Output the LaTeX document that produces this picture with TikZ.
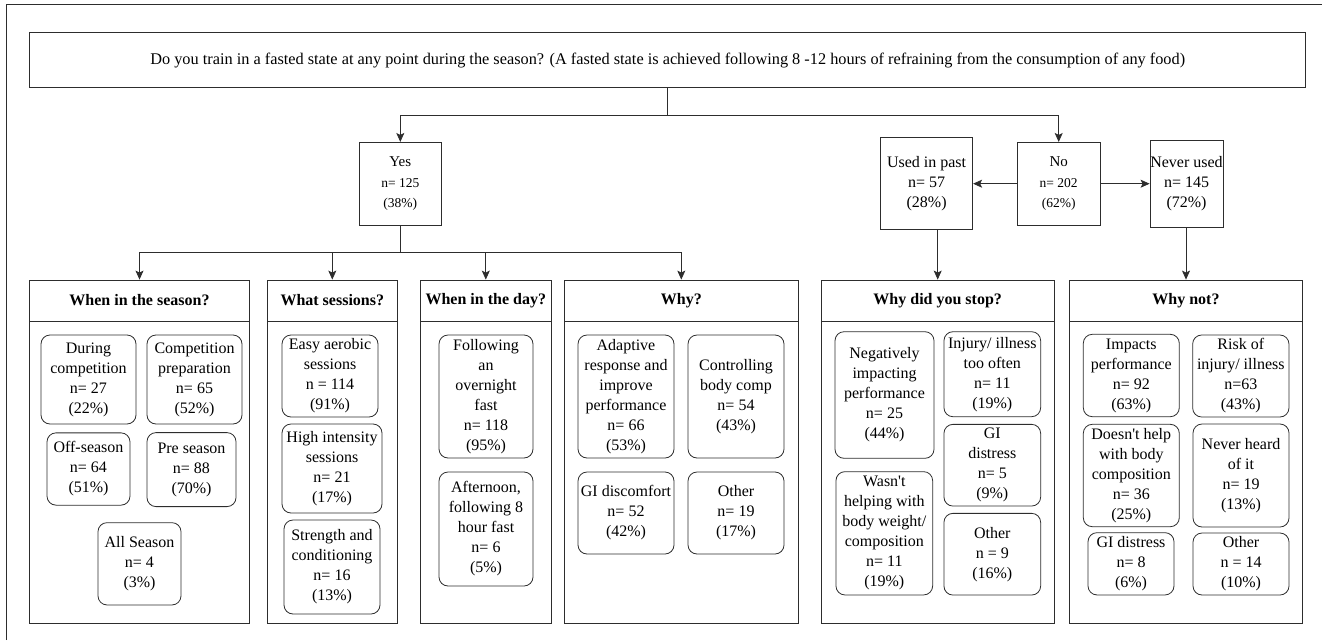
\documentclass[tikz,border=0pt]{standalone}
\usepackage{fontspec}
\setmainfont{Liberation Serif}[Ligatures=TeXOff]
\usepackage{tikz}
\usetikzlibrary{arrows.meta}
\definecolor{lineblk}{RGB}{45,45,45}

\begin{document}
\begin{tikzpicture}[x=1pt,y=-1pt,
  box/.style={draw=lineblk,line width=0.8pt,rectangle,inner sep=0pt,align=center},
  item/.style={box,rounded corners=9pt,font=\fontsize{16}{20}\selectfont},
  head/.style={box,font=\fontsize{16}{20}\selectfont\bfseries},
  ans/.style={box,font=\fontsize{16}{20}\selectfont},
  link/.style={draw=lineblk,line width=0.8pt},
  arr/.style={link,-{Stealth[length=9pt,width=8pt,inset=2pt]}}]
\useasboundingbox (0,0) rectangle (1322,640);

% Frame
\draw[link] (6.7,640) -- (6.7,4.7) -- (1322,4.7);

% Question
\node[box,minimum width=1276pt,minimum height=55pt,font=\fontsize{16.3}{20}\selectfont] (question) at (667.7,60.2) {Do you train in a fasted state at any point during the season? (A fasted state is achieved following 8 -12 hours of refraining from the consumption of any food)};

% Yes / No
\node[box,minimum width=82pt,minimum height=82.7pt,font=\fontsize{13.5}{20.5}\selectfont] (yes) at (400.3,183.7) {{\fontsize{15}{20}\selectfont Yes}\\n= 125\\(38\%)};
\node[box,minimum width=82.7pt,minimum height=82.7pt,font=\fontsize{13.5}{20.5}\selectfont] (no) at (1058.7,183.7) {{\fontsize{15}{20}\selectfont No}\\n= 202\\(62\%)};
\node[ans,minimum width=92.2pt,minimum height=92pt] (used) at (926.6,183.3) {Used in past\\n= 57\\(28\%)};
\node[ans,minimum width=73pt,minimum height=86.6pt] (never) at (1186.5,184) {Never used\\n= 145\\(72\%)};

% Panels
\node[box,minimum width=219.6pt,minimum height=302pt] (b1) at (139.5,472) {};
\node[head,minimum width=219.6pt,minimum height=41pt] (h1) at (139.5,300.5) {When in the season?};
\node[box,minimum width=130.7pt,minimum height=302pt] (b2) at (332.3,472) {};
\node[head,minimum width=130.7pt,minimum height=41pt] (h2) at (332.3,300.5) {What sessions?};
\node[box,minimum width=130.3pt,minimum height=302pt] (b3) at (485.8,472) {};
\node[head,minimum width=130.3pt,minimum height=41pt] (h3) at (485.8,300.5) {When in the day?};
\node[box,minimum width=234pt,minimum height=302pt] (b4) at (681.3,472) {};
\node[head,minimum width=234pt,minimum height=41pt] (h4) at (681.3,300.5) {Why?};
\node[box,minimum width=233.3pt,minimum height=302pt] (b5) at (937.7,472) {};
\node[head,minimum width=233.3pt,minimum height=41pt] (h5) at (937.7,300.5) {Why did you stop?};
\node[box,minimum width=233.4pt,minimum height=302pt] (b6) at (1186,472) {};
\node[head,minimum width=233.4pt,minimum height=41pt] (h6) at (1186,300.5) {Why not?};

% When in the season
\node[item,minimum width=95pt,minimum height=89pt] (during) at (88.5,379.5) {During\\competition\\n= 27\\(22\%)};
\node[item,minimum width=95pt,minimum height=89pt] (compprep) at (194.5,379.5) {Competition\\preparation\\n= 65\\(52\%)};
\node[item,minimum width=83pt,minimum height=72.3pt] (offseason) at (88.5,469) {Off-season\\n= 64\\(51\%)};
\node[item,minimum width=89pt,minimum height=74pt] (preseason) at (191.5,469.6) {Pre season\\n= 88\\(70\%)};
\node[item,minimum width=83pt,minimum height=82.3pt] (allseason) at (139.5,563.8) {All Season\\n= 4\\(3\%)};

% What sessions
\node[item,minimum width=96pt,minimum height=82pt] (easy) at (330,376) {Easy aerobic\\sessions\\n = 114\\(91\%)};
\node[item,minimum width=100pt,minimum height=89pt] (highint) at (332,468.5) {High intensity\\sessions\\n= 21\\(17\%)};
\node[item,minimum width=96pt,minimum height=94pt] (strength) at (332,567) {Strength and\\conditioning\\n= 16\\(13\%)};

% When in the day
\node[item,minimum width=94pt,minimum height=123pt] (overnight) at (486,396.5) {Following\\an\\overnight\\fast\\n= 118\\(95\%)};
\node[item,minimum width=94pt,minimum height=114pt] (afternoon) at (486,529) {Afternoon,\\following 8\\hour fast\\n= 6\\(5\%)};

% Why
\node[item,minimum width=96pt,minimum height=123pt] (adaptive) at (626,396.5) {Adaptive\\response and\\improve\\performance\\n= 66\\(53\%)};
\node[item,minimum width=96pt,minimum height=123pt] (bodycomp) at (736,396.5) {Controlling\\body comp\\n= 54\\(43\%)};
\node[item,minimum width=96pt,minimum height=82pt] (gidiscomf) at (626,513) {GI discomfort\\n= 52\\(42\%)};
\node[item,minimum width=96pt,minimum height=82pt] (otherwhy) at (736,513) {Other\\n= 19\\(17\%)};

% Why did you stop
\node[item,minimum width=99pt,minimum height=126.6pt] (negimpact) at (884.5,395) {Negatively\\impacting\\performance\\n= 25\\(44\%)};
\node[item,minimum width=96.7pt,minimum height=123.3pt] (nothelping) at (884.3,533.3) {Wasn't\\helping with\\body weight/\\composition\\n= 11\\(19\%)};
\node[item,minimum width=96.7pt,minimum height=85pt] (injury) at (992.3,374.2) {Injury/ illness\\too often\\n= 11\\(19\%)};
\node[item,minimum width=96.7pt,minimum height=81.7pt] (gistop) at (992.3,465.2) {GI\\distress\\n= 5\\(9\%)};
\node[item,minimum width=96.7pt,minimum height=81.7pt] (otherstop) at (992.3,554.2) {Other\\n = 9\\(16\%)};

% Why not
\node[item,minimum width=96pt,minimum height=82.4pt] (impacts) at (1131.3,375.5) {Impacts\\performance\\n= 92\\(63\%)};
\node[item,minimum width=96.3pt,minimum height=82pt] (risk) at (1240.8,376) {Risk of\\injury/ illness\\n=63\\(43\%)};
\node[item,minimum width=96pt,minimum height=102.4pt] (nohelp) at (1131.3,475.5) {Doesn't help\\with body\\composition\\n= 36\\(25\%)};
\node[item,minimum width=96pt,minimum height=103pt] (neverheard) at (1241,475.5) {Never heard\\of it\\n= 19\\(13\%)};
\node[item,minimum width=86pt,minimum height=62.3pt] (ginot) at (1131,563.8) {GI distress\\n= 8\\(6\%)};
\node[item,minimum width=96pt,minimum height=62pt] (othernot) at (1241,564) {Other\\n = 14\\(10\%)};

% Arrows
\coordinate (qsplit) at (667.7,115);
\coordinate (ysplit) at (400.3,252.7);
\draw[link] (question.south) -- (qsplit);
\draw[arr] (qsplit) -| (yes.north);
\draw[arr] (qsplit) -| (no.north);
\draw[arr] (no.west) -- (used.east |- no.west);
\draw[arr] (no.east) -- (never.west |- no.east);
\draw[link] (yes.south) -- (ysplit);
\foreach \p in {h1,h2,h3,h4}
  \draw[arr] (ysplit) -| (\p.north);
\draw[arr] (used.south -| h5.north) -- (h5.north);
\draw[arr] (never.south -| h6.north) -- (h6.north);
\end{tikzpicture}
\end{document}
